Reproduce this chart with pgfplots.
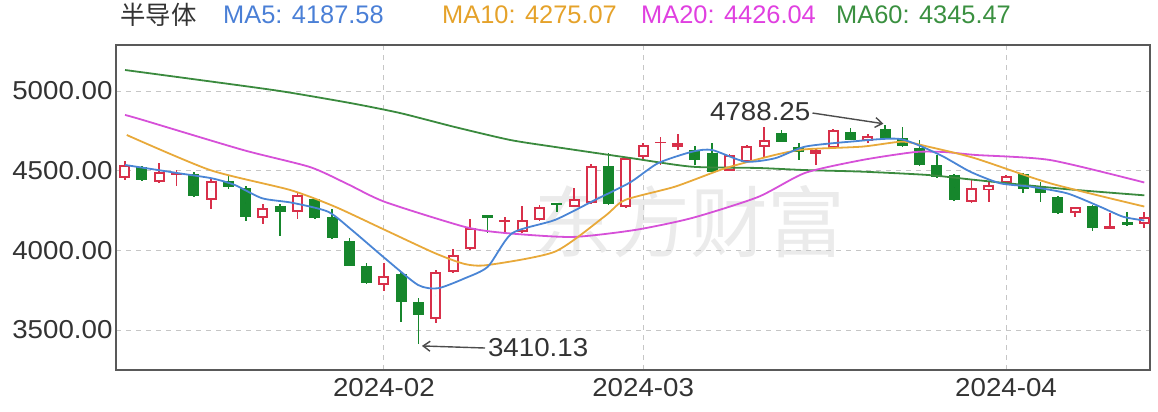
\documentclass[border=0pt]{standalone}
\usepackage{pgfplots}
\pgfplotsset{compat=1.18}
\usepackage{pgfplotstable}
\usepackage{fontspec}
\setmainfont{Liberation Sans}
\newfontfamily\widesans[FakeStretch=1.07]{Liberation Sans}
\newfontfamily\cjk{Noto Sans CJK SC}
\usetikzlibrary{arrows.meta}

\definecolor{cred}{HTML}{D8304A}
\definecolor{cgreen}{HTML}{16862C}
\definecolor{cma5}{HTML}{4A85D5}
\definecolor{cma10}{HTML}{E8A93A}
\definecolor{cma20}{HTML}{D650D8}
\definecolor{cma60}{HTML}{3A8A3E}
\definecolor{tma5}{HTML}{4A7FD6}
\definecolor{tma10}{HTML}{E5A22A}
\definecolor{tma20}{HTML}{E040E0}
\definecolor{tma60}{HTML}{3A9040}

% up candles: index open high low close
\pgfplotstableread{
i o h l c
0 4452 4561 4442 4536
2 4427 4547 4421 4494
3 4473 4504 4406 4484
5 4316 4446 4260 4435
8 4201 4291 4165 4264
10 4243 4362 4195 4348
15 3783 3923 3747 3839
18 3569 3877 3542 3866
19 3866 4009 3856 3971
20 4007 4195 4002 4138
22 4180 4210 4117 4191
23 4117 4278 4109 4191
24 4191 4285 4184 4270
26 4274 4393 4269 4322
27 4296 4542 4291 4531
29 4270 4586 4263 4578
30 4588 4672 4572 4661
31 4674 4710 4536 4682
32 4651 4730 4630 4672
35 4500 4605 4495 4599
36 4557 4661 4547 4655
37 4651 4775 4588 4693
40 4605 4636 4536 4630
41 4641 4762 4636 4756
43 4688 4730 4672 4718
49 4303 4448 4297 4390
50 4379 4429 4305 4410
51 4425 4473 4417 4467
55 4233 4275 4212 4270
57 4134 4236 4131 4150
59 4166 4243 4140 4212
}\uptab

% down candles
\pgfplotstableread{
i o h l c
1 4521 4531 4435 4442
4 4477 4492 4335 4343
6 4435 4467 4385 4396
7 4390 4401 4186 4211
9 4278 4291 4090 4243
11 4321 4327 4197 4201
12 4212 4260 4071 4076
13 4059 4079 3899 3904
14 3902 3919 3789 3793
16 3852 3866 3552 3674
17 3678 3699 3410.13 3594
21 4222 4222 4107 4201
25 4297 4297 4243 4283
28 4531 4609 4285 4289
33 4630 4655 4536 4567
34 4609 4672 4492 4494
38 4735 4756 4680 4682
39 4651 4672 4567 4619
42 4745 4770 4690 4693
44 4760 4788.25 4696 4703
45 4703 4772 4649 4655
46 4641 4693 4530 4536
47 4536 4599 4452 4462
48 4473 4479 4310 4316
52 4479 4486 4358 4383
53 4400 4431 4305 4358
54 4337 4344 4228 4233
56 4278 4285 4123 4138
58 4179 4243 4156 4159
}\downtab

\pgfplotstableread{
x y
0.02 4536
3.13 4484
5.05 4452
6.38 4410
7.95 4327
9.68 4299
11.76 4243
13.14 4128
15.06 3950
16.97 3783
18.13 3762
19.69 3825
21.02 3898
22.41 4107
24.9 4191
27.21 4316
29.24 4426
30.86 4547
32.83 4619
33.99 4630
35.9 4557
37.63 4578
39.37 4651
41.97 4682
44.86 4699
47.18 4599
48.92 4494
50.66 4421
52.39 4400
54.53 4358
56.44 4274
57.77 4211
59 4187.58
}\mafive

\pgfplotstableread{
x y
0.12 4724
4.94 4504
9.57 4379
12.17 4274
15.06 4128
17.96 3982
19.69 3914
21.02 3908
24.9 3992
27.79 4215
28.95 4316
31.85 4400
34.74 4515
37.63 4599
39.37 4634
42.67 4651
44.99 4682
46.49 4651
49.21 4578
53.55 4421
59 4275.07
}\maten

\pgfplotstableread{
x y
0.02 4850
1.06 4818
6.85 4630
10.72 4523
12.9 4416
15.06 4304
19.69 4147
22.0 4109
25.89 4084
29.53 4128
32.83 4203
36.65 4335
39.37 4486
42.67 4567
45.73 4617
47.47 4617
49.21 4599
53.55 4567
59 4426.04
}\matwenty

\pgfplotstableread{
x y
0.02 5132
4.36 5069
8.99 5000
13.04 4925
15.93 4862
19.11 4774
22.3 4693
24.9 4649
29.24 4580
32.83 4525
36.65 4517
39.37 4504
42.67 4494
46.49 4473
49.21 4442
54.42 4385
59 4345.47
}\masixty

\pgfplotsset{candle/.style={only marks, mark size=0pt, mark options={draw=none, fill=none}, forget plot,
  error bars/.cd, y dir=both, y explicit, error mark=none}}

\begin{document}
\begin{tikzpicture}
% watermark
\node[font=\cjk\fontsize{78}{80}\selectfont, text=black!8] at (574bp,148bp) {东方财富};
\begin{axis}[
  scale only axis, width=1034bp, height=325bp,
  xmin=-0.503, xmax=59.33, ymin=3249, ymax=5289,
  xtick={15,30,51}, xticklabels={2024-02,2024-03,2024-04},
  ytick={3500,4000,4500,5000},
  /pgf/number format/assume math mode=true,
  yticklabel style={/pgf/number format/fixed, /pgf/number format/fixed zerofill,
    /pgf/number format/precision=2, /pgf/number format/1000 sep={}},
  xticklabel style={yshift=-5bp},
  tick label style={font=\widesans\fontsize{26}{30}\selectfont, text=black!80},
  major tick length=0pt,
  grid=major,
  major grid style={draw=gray!45, dash pattern=on 5bp off 5bp, line width=0.9bp},
  axis line style={draw=black!65, line width=1.3bp},
  clip=true,
]
% wicks
\addplot[candle, error bar style={line width=1.7bp, draw=cred}]
  table[x=i, y expr={(\thisrow{h}+\thisrow{l})/2}, y error expr={(\thisrow{h}-\thisrow{l})/2}] {\uptab};
\addplot[candle, error bar style={line width=1.7bp, draw=cgreen}]
  table[x=i, y expr={(\thisrow{h}+\thisrow{l})/2}, y error expr={(\thisrow{h}-\thisrow{l})/2}] {\downtab};
% green bodies
\addplot[candle, error bar style={line width=11bp, draw=cgreen}]
  table[x=i, y expr={(\thisrow{o}+\thisrow{c})/2}, y error expr={max((\thisrow{o}-\thisrow{c})/2,5)}] {\downtab};
% red hollow bodies
\addplot[candle, error bar style={line width=11bp, draw=cred}]
  table[x=i, y expr={(\thisrow{o}+\thisrow{c})/2}, y error expr={max((\thisrow{c}-\thisrow{o})/2,5)}] {\uptab};
\addplot[candle, error bar style={line width=7bp, draw=white}]
  table[x=i, y expr={(\thisrow{o}+\thisrow{c})/2}, y error expr={max((\thisrow{c}-\thisrow{o})/2-12.6,0)}] {\uptab};
% moving averages
\addplot[no marks, smooth, tension=0.4, draw=cma60, line width=1.8bp] table[x=x,y=y] {\masixty};
\addplot[no marks, smooth, tension=0.4, draw=cma20, line width=1.8bp] table[x=x,y=y] {\matwenty};
\addplot[no marks, smooth, tension=0.4, draw=cma10, line width=1.8bp] table[x=x,y=y] {\maten};
\addplot[no marks, smooth, tension=0.4, draw=cma5, line width=1.8bp] table[x=x,y=y] {\mafive};
% annotations
\draw[-{Straight Barb[length=7bp,width=10bp]}, black!70, line width=1.4bp]
  (axis cs:20.85,3387) -- (axis cs:17.2,3400);
\node[anchor=west, font=\widesans\fontsize{26}{30}\selectfont, text=black!80, inner sep=2bp] at (axis cs:20.9,3387) {3410.13};
\draw[-{Straight Barb[length=7bp,width=10bp]}, black!70, line width=1.4bp]
  (axis cs:39.8,4862) -- (axis cs:43.9,4795);
\node[anchor=east, font=\widesans\fontsize{26}{30}\selectfont, text=black!80, inner sep=2bp] at (axis cs:39.8,4868) {4788.25};
\end{axis}
% title row
\begin{scope}[every node/.style={anchor=west, inner sep=0pt, font=\fontsize{25.5}{30}\selectfont}]
\node[text=black!80] at (4bp,355bp) {\cjk 半导体};
\node[text=tma5] at (107bp,355bp) {MA5: 4187.58};
\node[text=tma10] at (326bp,355bp) {MA10: 4275.07};
\node[text=tma20] at (525bp,355bp) {MA20: 4426.04};
\node[text=tma60] at (720bp,355bp) {MA60: 4345.47};
\end{scope}
\pgfresetboundingbox
\path[use as bounding box] (-116bp,-42bp) rectangle (1042bp,370bp);
\end{tikzpicture}
\end{document}
